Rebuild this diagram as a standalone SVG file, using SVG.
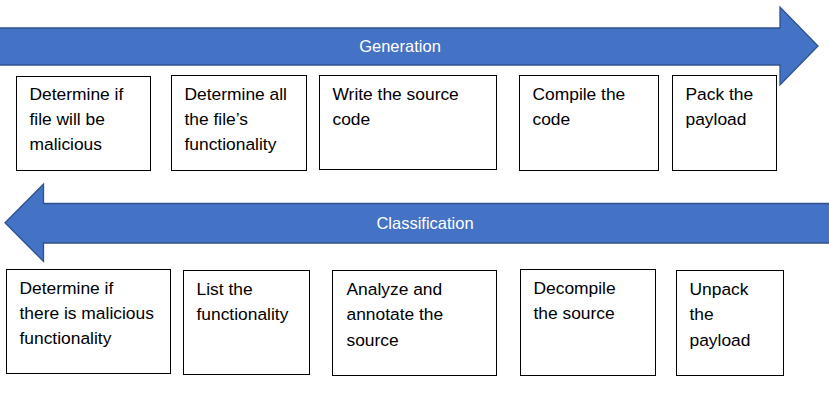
<svg xmlns="http://www.w3.org/2000/svg" width="829" height="400" viewBox="0 0 829 400">
<style>
.arrow{fill:#4472C4;stroke:#2F528F;stroke-width:1.3}
.box{fill:#ffffff;stroke:#000000;stroke-width:1}
.t{font-family:"Liberation Sans",Arial,sans-serif;font-size:17.4px;fill:#000000}
.at{font-family:"Liberation Sans",Arial,sans-serif;font-size:16.5px;fill:#ffffff;text-anchor:middle}
</style>
<rect width="829" height="400" fill="#ffffff"/>
<g id="connectors">
<g id="generation-arrow">
<path class="arrow" d="M-2,28 L780,28 L780,7 L818,46 L780,85 L780,65 L-2,65 Z"/>
<text class="at" x="400" y="52">Generation</text>
</g>
<g id="classification-arrow">
<path class="arrow" d="M831,203.5 L43.5,203.5 L43.5,184 L5,222.7 L43.5,261.5 L43.5,243 L831,243 Z"/>
<text class="at" x="425" y="229">Classification</text>
</g>
</g>
<g id="g1"><rect class="box" x="16.5" y="76.5" width="134" height="94"/>
<text class="t" x="29.5" y="100">Determine if</text><text class="t" x="29.5" y="125">file will be</text><text class="t" x="29.5" y="150">malicious</text></g>
<g id="g2"><rect class="box" x="171.5" y="75.5" width="135" height="95"/>
<text class="t" x="184.5" y="100">Determine all</text><text class="t" x="184.5" y="125">the file’s</text><text class="t" x="184.5" y="149.5">functionality</text></g>
<g id="g3"><rect class="box" x="319.5" y="75.5" width="177" height="94"/>
<text class="t" x="332.5" y="100">Write the source</text><text class="t" x="332.5" y="125">code</text></g>
<g id="g4"><rect class="box" x="519.5" y="75.5" width="139" height="95"/>
<text class="t" x="532.5" y="100">Compile the</text><text class="t" x="532.5" y="125">code</text></g>
<g id="g5"><rect class="box" x="672.5" y="75.5" width="104" height="95"/>
<text class="t" x="685.5" y="100">Pack the</text><text class="t" x="685.5" y="125">payload</text></g>
<g id="c1"><rect class="box" x="6.5" y="269.5" width="164" height="104"/>
<text class="t" x="19.5" y="293.5">Determine if</text><text class="t" x="19.5" y="318.5">there is malicious</text><text class="t" x="19.5" y="343.5">functionality</text></g>
<g id="c2"><rect class="box" x="183.5" y="270.5" width="126" height="104"/>
<text class="t" x="196.5" y="295">List the</text><text class="t" x="196.5" y="320">functionality</text></g>
<g id="c3"><rect class="box" x="332.5" y="270.5" width="164" height="105"/>
<text class="t" x="346.5" y="295">Analyze and</text><text class="t" x="346.5" y="320">annotate the</text><text class="t" x="346.5" y="346">source</text></g>
<g id="c4"><rect class="box" x="520.5" y="269.5" width="135" height="106"/>
<text class="t" x="533.5" y="294">Decompile</text><text class="t" x="533.5" y="319">the source</text></g>
<g id="c5"><rect class="box" x="676.5" y="270.5" width="107" height="105"/>
<text class="t" x="689.5" y="295">Unpack</text><text class="t" x="689.5" y="320">the</text><text class="t" x="689.5" y="346">payload</text></g>
</svg>
